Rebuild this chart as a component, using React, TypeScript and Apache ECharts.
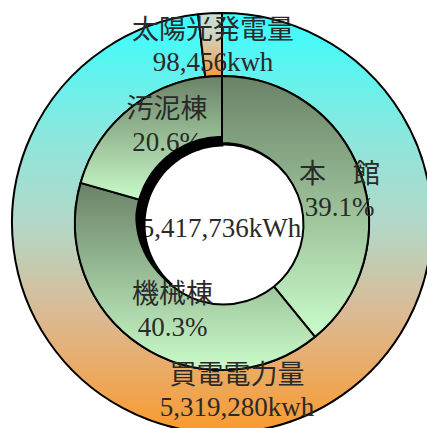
import React, { useEffect, useRef } from 'react';
import * as echarts from 'echarts';

// ---- data ----
const supplyNames = ['買電電力量', '太陽光発電量'];
const supplyValues = [5319280, 98456];
const buildingNames = ['本　館', '機械棟', '汚泥棟'];
const buildingShares = [39.1, 40.3, 20.6];
const supplyUnit = 'kwh';
const totalUnit = 'kWh';

const fmt = (v: number) => v.toLocaleString('en-US');

export default function App() {
  const ref = useRef<HTMLDivElement>(null);

  useEffect(() => {
    document.body.style.margin = '0';
    if (!ref.current) return;
    const chart = echarts.init(ref.current, null, { renderer: 'svg' });

    const CX = 222;
    const CY = 223;
    const HX = 223.5;
    const HY = 224.5;
    const HR = 80;

    const font = "'Liberation Serif', 'Noto Sans CJK JP', serif";
    const baseLabel = {
      show: true,
      position: 'inside' as const,
      fontFamily: font,
      fontSize: 27,
      lineHeight: 33,
      color: '#2a2a2a',
    };

    const outerPos = [[237, 391], [213, 46]];
    const innerPos = [[339.5, 190.5], [172.5, 310], [167, 125]];

    const total = supplyValues.reduce((a, b) => a + b, 0);

    const outerColors = [
      new echarts.graphic.LinearGradient(0, 0, 0, 1, [
        { offset: 0, color: '#36FFFF' },
        { offset: 0.3, color: '#8EE6DC' },
        { offset: 0.5, color: '#B2D8C8' },
        { offset: 0.73, color: '#DDB890' },
        { offset: 1, color: '#FA9A2E' },
      ]),
      new echarts.graphic.LinearGradient(0, 0, 0, 1, [
        { offset: 0, color: '#C4E2DA' },
        { offset: 0.35, color: '#D0D4C0' },
        { offset: 1, color: '#F59A40' },
      ]),
    ];
    const innerGrad = () =>
      new echarts.graphic.LinearGradient(0, 0, 0, 1, [
        { offset: 0, color: '#6A8266' },
        { offset: 1, color: '#CAFCCA' },
      ]);

    // crescent shadow on inner edge
    const pts: number[][] = [];
    for (let a = 90; a <= 230; a += 2) {
      const rad = (a * Math.PI) / 180;
      const R = a <= 175 ? 87 : 87 - (7 * (a - 175)) / 55;
      pts.push([CX + R * Math.cos(rad), CY - R * Math.sin(rad)]);
    }
    for (let a = 230; a >= 90; a -= 2) {
      const rad = (a * Math.PI) / 180;
      pts.push([HX + (HR - 2) * Math.cos(rad), HY - (HR - 2) * Math.sin(rad)]);
    }

    chart.setOption({
      animation: false,
      backgroundColor: '#fff',
      series: [
        {
          type: 'pie',
          center: [CX, CY],
          radius: [147, 210],
          startAngle: 90,
          clockwise: true,
          avoidLabelOverlap: false,
          silent: true,
          emphasis: { disabled: true },
          itemStyle: { borderColor: '#000', borderWidth: 2 },
          label: {
            ...baseLabel,
            lineHeight: 32,
            formatter: (p: any) => `${p.name}\n${fmt(p.value)}${supplyUnit}`,
          },
          labelLine: { show: false },
          labelLayout: (p: any) => ({ x: outerPos[p.dataIndex][0], y: outerPos[p.dataIndex][1] }),
          data: supplyNames.map((n, i) => ({
            name: n,
            value: supplyValues[i],
            itemStyle: { color: outerColors[i] },
          })),
        },
        {
          type: 'pie',
          center: [CX, CY],
          radius: [HR, 147],
          startAngle: 90,
          clockwise: true,
          avoidLabelOverlap: false,
          silent: true,
          emphasis: { disabled: true },
          itemStyle: { borderColor: '#000', borderWidth: 2 },
          label: {
            ...baseLabel,
            formatter: (p: any) => `${p.name}\n${p.value.toFixed(1)}%`,
          },
          labelLine: { show: false },
          labelLayout: (p: any) => ({ x: innerPos[p.dataIndex][0], y: innerPos[p.dataIndex][1] }),
          data: buildingNames.map((n, i) => ({
            name: n,
            value: buildingShares[i],
            itemStyle: { color: innerGrad() },
          })),
        },
        {
          type: 'pie',
          center: [HX, HY],
          radius: [0, HR],
          silent: true,
          emphasis: { disabled: true },
          itemStyle: { color: '#fff', borderColor: '#000', borderWidth: 2 },
          label: {
            ...baseLabel,
            position: 'center',
            formatter: (p: any) => `${fmt(p.value)}${totalUnit}`,
          },
          labelLine: { show: false },
          labelLayout: () => ({ x: 221, y: 228 }),
          data: [{ name: 'total', value: total }],
        },
      ],
      graphic: [
        {
          type: 'polygon',
          z: 100,
          silent: true,
          shape: { points: pts },
          style: { fill: '#000' },
        },
      ],
    });

    return () => chart.dispose();
  }, []);

  return <div ref={ref} style={{ width: 427, height: 428 }} />;
}
